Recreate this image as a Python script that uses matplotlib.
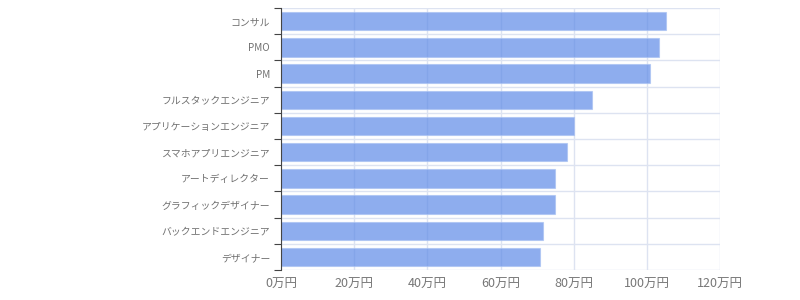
import numpy as np
import matplotlib
matplotlib.use('Agg')
import matplotlib.pyplot as plt
from matplotlib.ticker import FixedLocator

plt.rcParams['font.family'] = ['Noto Sans CJK JP', 'DejaVu Sans']

# job categories, top to bottom
jobs = ['コンサル', 'PMO', 'PM', 'フルスタックエンジニア', 'アプリケーションエンジニア',
        'スマホアプリエンジニア', 'アートディレクター', 'グラフィックデザイナー',
        'バックエンドエンジニア', 'デザイナー']
# salary in 万円
salary = [105.1, 103.4, 100.9, 85.0, 80.0, 78.2, 75.0, 75.0, 71.6, 70.8]
xticks = [0, 20, 40, 60, 80, 100, 120]
xlabels = [f'{v}万円' for v in xticks]

grid_c = '#dde3f1'

fig = plt.figure(figsize=(8, 3), dpi=100)
ax = fig.add_axes([0.3515, 0.1, 0.5485, 0.873])

y = np.arange(len(jobs))
ax.barh(y, salary, height=0.7, color='#5f8be7', alpha=0.7,
        edgecolor='#a9c1f2', linewidth=0.8, zorder=3)

ax.set_xlim(0, 120)
ax.set_ylim(len(jobs) - 0.5, -0.5)
ax.set_xticks(xticks)
ax.set_xticklabels(xlabels, fontsize=9, color='#777777')
ax.set_yticks(y)
ax.set_yticklabels(jobs, fontsize=7.1, color='#707070')
ax.yaxis.set_minor_locator(FixedLocator(np.arange(-0.5, len(jobs), 1)))

ax.tick_params(axis='y', which='major', length=0, pad=8)
ax.tick_params(axis='y', which='minor', length=5, color='#444444', width=0.8)
ax.tick_params(axis='x', length=0, pad=6)

ax.grid(axis='x', which='major', color=grid_c, linewidth=1, zorder=0)
ax.grid(axis='y', which='minor', color=grid_c, linewidth=1, zorder=0)

for s in ['top', 'right', 'bottom']:
    ax.spines[s].set_visible(False)
ax.spines['left'].set_color('#444444')
ax.spines['left'].set_linewidth(0.8)
ax.spines['left'].set_zorder(4)

fig.savefig('out.png', dpi=100)
